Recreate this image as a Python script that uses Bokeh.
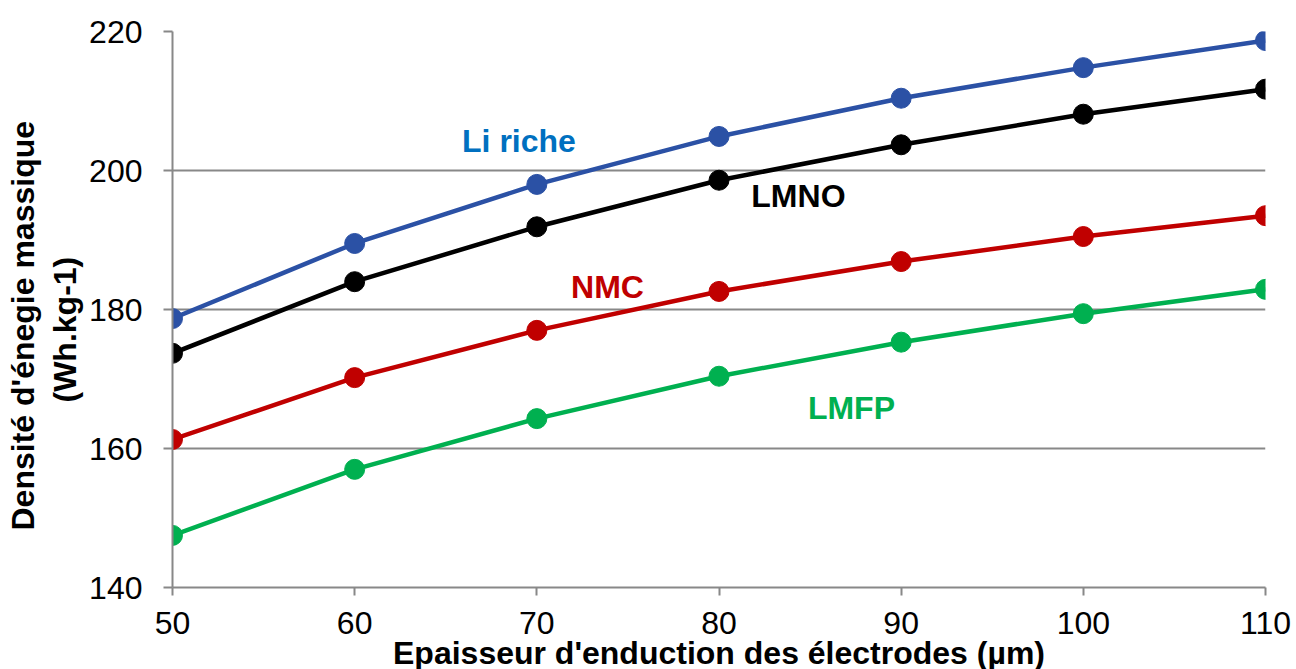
from bokeh.plotting import figure
from bokeh.models import Range1d, FixedTicker, Label, Title
from bokeh.embed import file_html
from bokeh.resources import INLINE

# Data
thickness = [50, 60, 70, 80, 90, 100, 110]
li_riche = [178.7, 189.5, 198.0, 204.9, 210.4, 214.8, 218.7]
lmno = [173.7, 184.0, 191.9, 198.6, 203.7, 208.1, 211.7]
nmc = [161.3, 170.2, 177.0, 182.6, 186.9, 190.5, 193.5]
lmfp = [147.5, 157.0, 164.3, 170.4, 175.3, 179.4, 182.9]

series_names = ["Li riche", "LMNO", "NMC", "LMFP"]
line_colors = ["#2B51A5", "#000000", "#C00000", "#00B050"]
label_colors = ["#0070C0", "#000000", "#C00000", "#00B050"]
x_ticks = [50, 60, 70, 80, 90, 100, 110]
y_ticks = [140, 160, 180, 200, 220]

x_title = "Epaisseur d'enduction des électrodes (µm)"
y_title_1 = "Densité d'énegie massique"
y_title_2 = "(Wh.kg-1)"

FONT = "Liberation Sans"
FS = "32px"

p = figure(width=1296, height=677, output_backend="svg", toolbar_location=None,
           x_range=Range1d(50, 110), y_range=Range1d(140, 220),
           min_border_left=172, min_border_right=31, min_border_top=31,
           min_border_bottom=90)
p.outline_line_color = None
p.background_fill_color = "white"

grey = "#888888"
p.xgrid.visible = False
p.ygrid.grid_line_color = grey
p.ygrid.grid_line_width = 2
p.ygrid.ticker = FixedTicker(ticks=y_ticks)

for ax in (p.xaxis[0], p.yaxis[0]):
    ax.axis_line_color = grey
    ax.axis_line_width = 2
    ax.major_tick_line_color = grey
    ax.major_tick_line_width = 2
    ax.major_tick_in = 0
    ax.minor_tick_line_color = None
    ax.major_label_text_font = FONT
    ax.major_label_text_font_size = FS
    ax.major_label_text_color = "black"

p.xaxis.ticker = FixedTicker(ticks=x_ticks)
p.yaxis.ticker = FixedTicker(ticks=y_ticks)
p.xaxis.major_tick_out = 8
p.yaxis.major_tick_out = 9
p.xaxis.major_label_standoff = 16
p.yaxis.major_label_standoff = 21

p.xaxis.axis_label = x_title
p.xaxis.axis_label_text_font = FONT
p.xaxis.axis_label_text_font_size = FS
p.xaxis.axis_label_text_font_style = "bold"
p.xaxis.axis_label_text_color = "black"
p.xaxis.axis_label_standoff = -2

all_series = [li_riche, lmno, nmc, lmfp]
for ys, c in zip(all_series, line_colors):
    p.line(thickness, ys, line_color=c, line_width=4.5)
    p.scatter(thickness, ys, size=20, fill_color=c, line_color=c)

# Series labels (annotation positions)
label_pos = [(69.02, 204.2), (84.36, 196.3), (73.88, 183.3), (87.27, 165.8)]
for name, col, (lx, ly) in zip(series_names, label_colors, label_pos):
    p.add_layout(Label(x=lx, y=ly, text=name, text_color=col, text_font=FONT,
                       text_font_size=FS, text_font_style="bold",
                       text_align="center", text_baseline="alphabetic"))

# Y axis title (two lines), aligned from the bottom of the frame
p.add_layout(Title(text=y_title_2, align="left", offset=185, text_font=FONT,
                   text_font_size=FS, text_font_style="bold",
                   text_color="black", standoff=8), "left")
p.add_layout(Title(text=y_title_1, align="left", offset=57, text_font=FONT,
                   text_font_size=FS, text_font_style="bold",
                   text_color="black", standoff=0), "left")

open("out.html", "w").write(file_html(p, INLINE))
